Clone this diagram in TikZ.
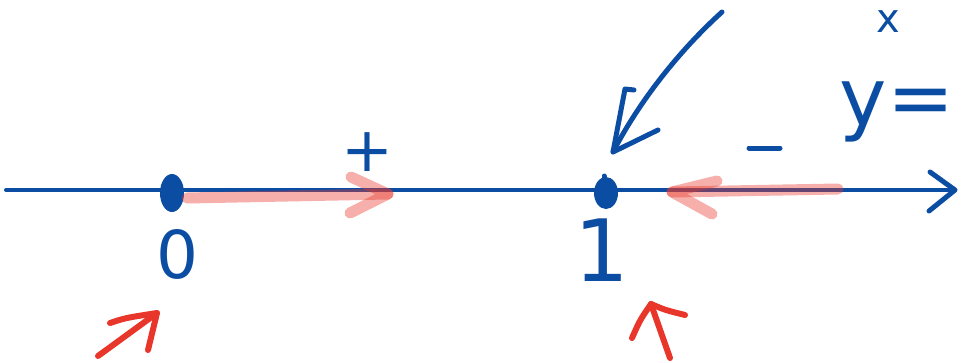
\documentclass[tikz,border=0pt]{standalone}
\usepackage{fontspec}
\setmainfont{DejaVu Sans}
\begin{document}
\begin{tikzpicture}[x=1pt,y=-1pt,
  pen/.style={draw=inkblue,line width=5pt,line cap=round,line join=round},
  axisline/.style={draw=inkblue,line width=4pt,line cap=round,line join=round},
  redpen/.style={draw=inkred,line width=6pt,line cap=round,line join=round},
  hilite/.style={draw=inkred,line width=11pt,line cap=round,line join=round,opacity=0.4},
  lbl/.style={text=inkblue,inner sep=0pt,font=\fontsize{62}{62}\selectfont}]
\definecolor{inkblue}{HTML}{0B4DA2}
\definecolor{inkred}{HTML}{E8372A}
\useasboundingbox (0,0) rectangle (961,362);
\clip (0,0) rectangle (961,362);
% axis
\coordinate (axL) at (6,190);
\coordinate (axR) at (955,190);
\draw[axisline] (axL) -- (axR);
\coordinate (ahU) at (930,172);
\coordinate (ahD) at (929,211);
\draw[axisline,line width=5pt] (ahU) -- (axR) -- (ahD);
% points
\fill[inkblue] (172,193) ellipse [x radius=12pt, y radius=19pt];
\node[inner sep=0pt,minimum size=1pt] (zero) at (172,193) {};
\fill[inkblue] (606,193) ellipse [x radius=12pt, y radius=16pt];
\node[inner sep=0pt,minimum size=1pt] (one) at (606,193) {};
\draw[pen] (604,176) -- (604,190);
% labels
\node[lbl,font=\fontsize{66}{66}\selectfont] (l0) at (177,254) {0};
\node[lbl,font=\fontsize{86}{86}\selectfont] (l1) at (602,250) {1};
\node[lbl,font=\fontsize{62}{62}\selectfont] (plus) at (367,152) {+};
\coordinate (mA) at (749,148);
\coordinate (mB) at (780,148);
\draw[pen] (mA) -- (mB);
\node[lbl,font=\fontsize{80}{80}\selectfont] (ylab) at (897,112) {y=};
\node[lbl,font=\fontsize{40}{40}\selectfont] (xlab) at (888,22) {x};
% red highlighted arrows
\coordinate (r1s) at (187,198);
\coordinate (r1e) at (388,194);
\draw[hilite] (r1s) -- (r1e);
\draw[hilite] (351,177) -- (r1e) -- (350,213);
\coordinate (r2s) at (838,189);
\coordinate (r2e) at (672,192);
\draw[hilite] (r2s) -- (r2e);
\draw[hilite] (717,181) -- (r2e) -- (712,214);
% big blue arrow
\coordinate (bs) at (722,12);
\coordinate (bt) at (613,152);
\draw[pen] (bs) .. controls (680,50) and (640,100) .. (bt);
\draw[pen] (634,90) -- (625,89) -- (bt) -- (658,130);
% bottom red arrows
\coordinate (ra1s) at (98,356);
\coordinate (ra1t) at (157,313);
\draw[redpen] (ra1s) -- (ra1t);
\draw[redpen] (110,323) .. controls (125,318) .. (ra1t) -- (148,350);
\coordinate (ra2s) at (670,358);
\coordinate (ra2t) at (651,304);
\draw[redpen] (ra2s) -- (ra2t);
\draw[redpen] (632,338) .. controls (640,320) .. (ra2t) .. controls (665,310) .. (685,315);
\end{tikzpicture}
\end{document}
